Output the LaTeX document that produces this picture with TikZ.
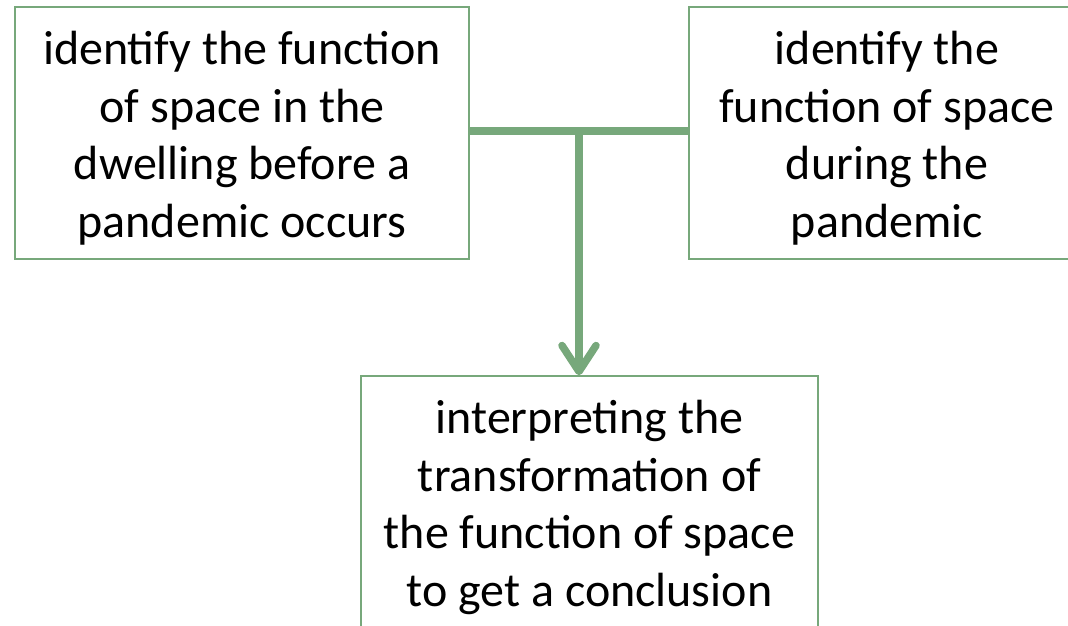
\documentclass[tikz,border=0pt]{standalone}
\usepackage{fontspec}
\setmainfont{Carlito}
\usetikzlibrary{arrows.meta}
\definecolor{sagegreen}{RGB}{119,168,123}
\newcommand{\topgap}{\rule{0pt}{44pt}}

\begin{document}
\begin{tikzpicture}[>={Straight Barb[length=26pt,width=34pt,round]},x=1pt,y=-1pt,
	box/.style={draw=sagegreen,line width=1.5pt,align=center,inner sep=0pt,minimum height=252pt,font=\fontsize{48}{57.5}\selectfont},
	link/.style={draw=sagegreen,line width=7.5pt}]
		\useasboundingbox (0,0) rectangle (1068,626);
		\clip (0,0) rectangle (1068,626);
		\node[box,minimum width=454pt] (before) at (242,133) {\topgap identify the function\\of space in the\\dwelling before a\\pandemic occurs};
		\node[box,minimum width=396pt] (during) at (887,133) {\topgap identify the\\function of space\\during the\\pandemic};
		\node[box,minimum width=457pt] (after) at (589.5,502) {\topgap interpreting the\\transformation of\\the function of space\\to get a conclusion};
		\draw[link] ([yshift=2pt]before.east) -- ([yshift=2pt]during.west) coordinate[pos=0.5] (mid);
		\draw[link,->] (mid) -- (mid |- after.north);
		\end{tikzpicture}
\end{document}
